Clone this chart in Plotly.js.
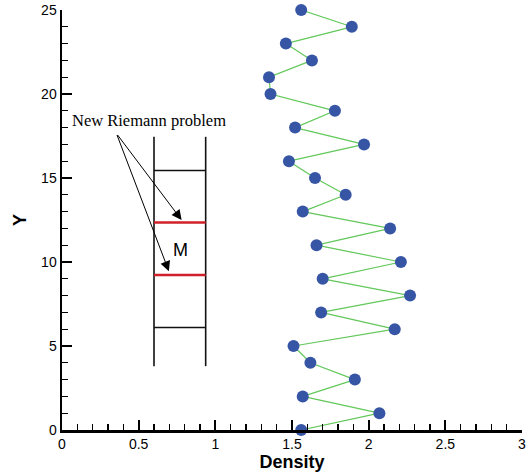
<!DOCTYPE html>
<html>
<head>
<meta charset="utf-8">
<script src="https://cdn.plot.ly/plotly-3.0.1.min.js"></script>
<style>html,body{margin:0;padding:0;background:#fff;}#chart{width:526px;height:473px;}</style>
</head>
<body>
<div id="chart"></div>
<script>
// Data
const yValues = [0,1,2,3,4,5,6,7,8,9,10,11,12,13,14,15,16,17,18,19,20,21,22,23,24,25];
const density = [1.56,2.07,1.57,1.91,1.62,1.51,2.17,1.69,2.27,1.70,2.21,1.66,2.14,1.57,1.85,1.65,1.48,1.97,1.52,1.78,1.36,1.35,1.63,1.46,1.89,1.56];

// Schematic cell ladder
const railX = [0.60, 0.937];
const railY = [3.8, 17.45];
const cellEdgeY = [6.1, 15.45];
const newRiemannY = [9.23, 12.35];
const mLabel = {x: 0.77, y: 10.7, text: 'M'};
const noteLabel = {x: 0.57, y: 18.4, text: 'New Riemann problem'};
const arrowTail = [0.355, 17.65];
const arrowHeadsX = [0.78, 0.697];
const arrowHeadsY = [12.5, 9.45];

// build ladder traces
const railXs = [], railYs = [];
railX.forEach(x => { railXs.push(x, x, null); railYs.push(railY[0], railY[1], null); });
const edgeXs = [], edgeYs = [];
cellEdgeY.forEach(y => { edgeXs.push(railX[0], railX[1], null); edgeYs.push(y, y, null); });
const redXs = [], redYs = [];
newRiemannY.forEach(y => { redXs.push(railX[0], railX[1], null); redYs.push(y, y, null); });

const traces = [
  {x: railXs, y: railYs, mode: 'lines', line: {color: '#111', width: 1.6}, hoverinfo: 'skip', showlegend: false},
  {x: edgeXs, y: edgeYs, mode: 'lines', line: {color: '#111', width: 1.6}, hoverinfo: 'skip', showlegend: false},
  {x: redXs, y: redYs, mode: 'lines', line: {color: '#d0202a', width: 2.6}, hoverinfo: 'skip', showlegend: false},
  {x: density, y: yValues, mode: 'lines+markers', cliponaxis: false,
   line: {color: '#62c85a', width: 1.2},
   marker: {color: '#3655a5', size: 12}, showlegend: false}
];

const annotations = [
  {x: mLabel.x, y: mLabel.y, xref: 'x', yref: 'y', text: mLabel.text, showarrow: false,
   font: {family: 'Liberation Sans, Arial, sans-serif', size: 18, color: '#000'}},
  {x: noteLabel.x, y: noteLabel.y, xref: 'x', yref: 'y', text: noteLabel.text, showarrow: false,
   font: {family: 'Liberation Serif, Times New Roman, serif', size: 16.5, color: '#000'}}
];
arrowHeadsX.forEach((hx, i) => {
  annotations.push({x: hx, y: arrowHeadsY[i], xref: 'x', yref: 'y', ax: arrowTail[0], ay: arrowTail[1],
    axref: 'x', ayref: 'y', text: '', showarrow: true, arrowhead: 2, arrowsize: 2, arrowwidth: 1, arrowcolor: '#000'});
});

const tickFont = {family: 'Liberation Sans, Arial, sans-serif', size: 14, color: '#000'};
const layout = {
  width: 526, height: 473,
  margin: {l: 62, r: 4, t: 10, b: 43},
  paper_bgcolor: '#fff', plot_bgcolor: '#fff',
  xaxis: {
    range: [0, 3], dtick: 0.5, tick0: 0, showgrid: false, zeroline: false,
    showline: true, linecolor: '#000', linewidth: 2.5,
    ticks: 'inside', ticklen: 10, tickwidth: 2, tickcolor: '#000',
    minor: {dtick: 0.1, ticks: 'inside', ticklen: 6, tickwidth: 1.2, tickcolor: '#000', showgrid: false},
    tickfont: tickFont, ticklabeloverflow: 'allow',
    title: {text: '<b>Density</b>', font: {family: 'Liberation Sans, Arial, sans-serif', size: 18, color: '#000'}, standoff: 4}
  },
  yaxis: {
    range: [0, 25], dtick: 5, tick0: 0, showgrid: false, zeroline: false,
    showline: true, linecolor: '#000', linewidth: 2.5,
    ticks: 'inside', ticklen: 10, tickwidth: 2, tickcolor: '#000',
    minor: {dtick: 1, ticks: 'inside', ticklen: 6, tickwidth: 1.2, tickcolor: '#000', showgrid: false},
    tickfont: tickFont, ticklabeloverflow: 'allow',
    title: {text: '<b>Y</b>', font: {family: 'Liberation Sans, Arial, sans-serif', size: 18, color: '#000'}, standoff: 10}
  },
  annotations: annotations,
  showlegend: false
};

Plotly.newPlot('chart', traces, layout, {displayModeBar: false, staticPlot: true});
</script>
</body>
</html>
